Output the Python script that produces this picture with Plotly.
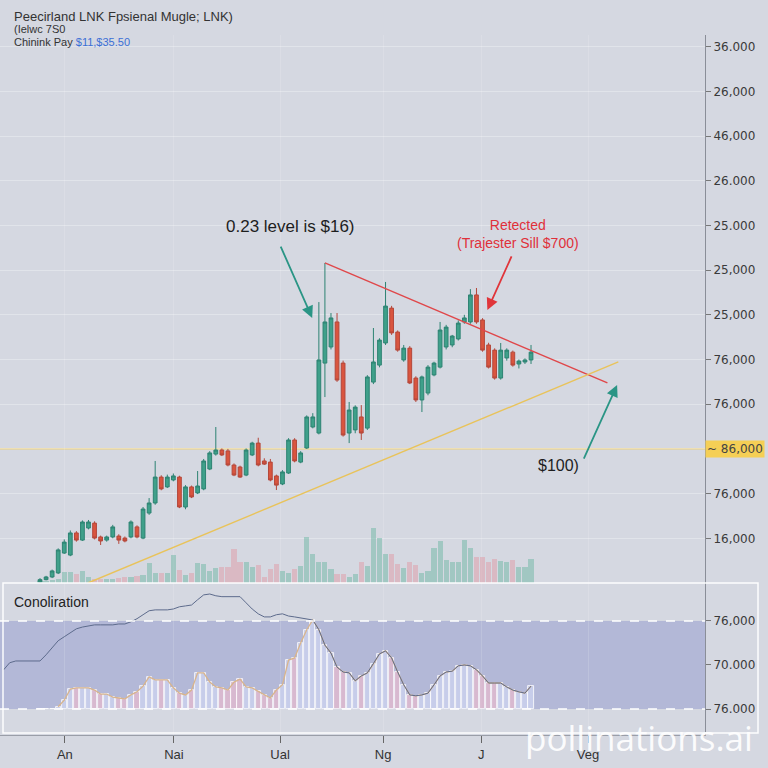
import plotly.graph_objects as go

# ---------------- data ----------------
opens  = [0.05,0.15,0.27,0.45,1.34,1.25,2.24,1.92,2.46,2.68,2.06,1.92,2.06,2.10,2.01,2.06,2.51,2.01,3.13,3.58,
          4.74,4.30,4.61,4.74,3.40,4.30,4.03,4.21,5.10,5.77,5.95,5.91,5.28,5.19,4.83,5.73,6.26,5.46,5.41,4.79,
          4.43,4.92,6.40,5.41,6.04,6.98,6.71,9.84,10.56,11.68,9.84,6.71,6.85,7.43,6.93,8.99,9.75,10.74,12.30,11.23,
          9.98,10.51,9.17,8.19,8.50,9.31,9.66,10.56,10.65,10.92,11.68,11.68,12.89,11.77,10.65,10.42,9.17,10.07,10.33,9.80,
          9.89,9.98]
highs  = [0.22,0.32,0.60,1.55,1.95,2.35,2.32,2.80,2.82,2.76,2.12,2.12,2.60,2.18,2.08,2.80,2.58,3.40,3.80,5.46,
          4.82,4.85,4.90,4.80,4.38,4.36,5.01,5.55,5.90,6.98,6.02,6.00,5.35,5.25,6.02,6.32,6.50,5.58,5.55,4.85,
          5.05,6.48,6.48,5.90,7.50,7.60,12.57,14.32,12.08,12.08,9.95,8.10,7.95,7.96,9.30,11.41,10.95,13.47,12.40,11.30,
          10.65,10.60,9.25,9.28,9.75,9.90,11.68,11.55,11.10,11.75,12.00,13.15,13.20,11.85,10.75,10.50,10.74,10.50,10.40,10.00,
          10.05,10.65]
lows   = [0.02,0.12,0.22,0.40,1.30,1.20,1.85,1.88,2.40,1.95,1.70,1.85,2.00,1.75,1.82,2.00,2.00,1.96,3.05,3.50,
          4.15,4.25,4.55,3.35,3.30,3.80,3.98,4.15,5.05,5.70,5.68,5.22,4.78,4.70,4.78,5.68,5.22,5.28,4.55,4.16,
          4.38,4.88,5.40,5.36,6.00,6.92,6.65,8.32,10.45,9.00,6.55,6.26,6.70,6.40,6.85,8.90,9.65,10.65,11.10,10.35,
          9.90,8.90,8.10,7.65,8.40,9.25,9.60,10.45,10.55,10.85,11.60,11.60,11.60,10.35,9.60,9.10,9.10,9.95,9.68,9.60,
          9.80,9.80]
closes = [0.15,0.27,0.54,1.48,1.83,2.24,1.92,2.73,2.73,2.01,1.88,2.06,2.51,1.92,1.88,2.73,2.06,3.31,3.58,4.74,
          4.21,4.74,4.79,3.40,4.30,3.85,4.34,5.46,5.82,5.95,5.73,5.28,4.83,4.74,5.95,6.26,5.28,5.32,4.61,4.38,
          4.97,6.40,5.46,5.82,7.43,7.43,9.98,11.68,11.86,9.08,6.62,7.74,7.87,6.71,9.22,9.89,10.87,12.39,11.19,10.42,
          10.51,8.95,8.19,9.22,9.66,9.84,11.32,11.45,11.05,11.63,11.86,12.89,11.68,10.42,9.66,9.17,10.42,10.42,9.75,9.93,
          9.98,10.33]
volume = [2,2,3,4,11,11,9,12,6,4,4,4,4,5,6,6,7,8,20,10,
          10,10,28,13,8,10,20,19,12,15,16,16,34,21,21,16,18,6,14,19,
          12,10,14,17,46,29,21,21,14,9,9,6,9,21,17,55,45,29,29,19,
          15,21,18,10,12,35,42,23,21,21,43,35,26,26,21,24,22,21,23,16,
          16,24]
oscillator = [0,0,0,0.05,0.20,0.45,0.48,0.48,0.48,0.43,0.34,0.34,0.27,0.25,0.23,0.32,0.39,0.52,0.73,0.66,
              0.66,0.66,0.48,0.36,0.32,0.43,0.82,0.82,0.61,0.50,0.48,0.43,0.61,0.68,0.50,0.48,0.40,0.32,0.25,0.43,
              0.55,1.11,1.16,1.50,1.80,2.02,1.80,1.45,1.27,0.95,0.84,0.82,0.64,0.75,0.82,1.02,1.25,1.32,1.16,0.84,
              0.55,0.32,0.30,0.32,0.36,0.55,0.75,0.84,0.86,0.98,1.00,0.98,0.89,0.75,0.59,0.59,0.59,0.50,0.43,0.39,
              0.36,0.52]
signal_start = -6
signal = [0.89,1.05,1.09,1.09,1.09,1.09,
          1.09,1.23,1.39,1.55,1.64,1.73,1.82,1.86,1.89,1.91,1.91,1.91,1.91,1.93,1.93,1.98,2.05,2.14,2.23,2.25,
          2.25,2.25,2.27,2.32,2.34,2.36,2.48,2.59,2.61,2.57,2.55,2.55,2.55,2.55,2.41,2.27,2.16,2.09,2.09,2.14,
          2.16,2.11,2.09,2.07,2.05,2.02,1.80,1.45,1.27,0.95,0.84,0.82,0.64,0.75,0.82,1.02,1.25,1.32,1.16,0.84,
          0.55,0.32,0.30,0.32,0.36,0.55,0.75,0.84,0.86,0.98,1.00,0.98,0.89,0.75,0.59,0.59,0.59,0.50,0.43,0.39,
          0.36,0.52]

month_pos = [4.1, 22.1, 39.6, 56.6, 72.8, 90.4]
month_labels = ["An", "Nai", "Ual", "Ng", "J", "Veg"]
price_ticks = [2, 4, 6, 8, 10, 12, 14, 16, 18, 20, 22, 24]
price_labels = ["16,000", "76,000", "", "76,000", "76,000", "25,000", "25,000", "25.000",
                "26.000", "46,000", "26,000", "36.000"]
osc_ticks = [0, 1, 2]
osc_labels = ["76.000", "70.000", "76,000"]

resistance = ([47, 93.6], [14.32, 8.95])
support = ([7.9, 95.4], [0.0, 9.89])
fib_level = 6.0

# ---------------- figure ----------------
idx = list(range(len(opens)))
BG = "#d5d8e1"
FONT = "Liberation Sans, Arial, sans-serif"

fig = go.Figure()

vol_colors = ["rgba(118,186,170,0.55)" if c >= o else "rgba(222,160,172,0.55)" for o, c in zip(opens, closes)]
fig.add_trace(go.Bar(x=idx, y=volume, marker=dict(color=vol_colors, line=dict(width=0)),
                     width=0.85, xaxis="x", yaxis="y", showlegend=False, hoverinfo="skip"))

fig.add_trace(go.Candlestick(x=idx, open=opens, high=highs, low=lows, close=closes,
                             increasing=dict(line=dict(color="#2d8372", width=1), fillcolor="#3fa08a"),
                             decreasing=dict(line=dict(color="#b4473a", width=1), fillcolor="#d9553f"),
                             whiskerwidth=0, xaxis="x", yaxis="y3", showlegend=False))

fig.add_trace(go.Scatter(x=resistance[0], y=resistance[1], mode="lines",
                         line=dict(color="#e0474a", width=1.4), xaxis="x", yaxis="y3",
                         showlegend=False, hoverinfo="skip"))
fig.add_trace(go.Scatter(x=support[0], y=support[1], mode="lines",
                         line=dict(color="#e9c35a", width=1.4), xaxis="x", yaxis="y3",
                         showlegend=False, hoverinfo="skip"))

osc_colors = ["rgba(205,212,240,0.75)" if c >= o else "rgba(228,186,206,0.75)" for o, c in zip(opens, closes)]
fig.add_trace(go.Bar(x=idx, y=oscillator, marker=dict(color=osc_colors, line=dict(color="white", width=0.8)),
                     width=0.85, xaxis="x", yaxis="y2", showlegend=False, hoverinfo="skip"))
fig.add_trace(go.Scatter(x=idx[3:], y=oscillator[3:], mode="lines",
                         line=dict(color="#d8b48c", width=1.3), xaxis="x", yaxis="y2",
                         showlegend=False, hoverinfo="skip"))
sig_x = list(range(signal_start, signal_start + len(signal)))
fig.add_trace(go.Scatter(x=sig_x, y=signal, mode="lines",
                         line=dict(color="#5d6b8c", width=1), xaxis="x", yaxis="y2",
                         showlegend=False, hoverinfo="skip"))

PLOT_W = 705.0
PLOT_H = 700.0
split = 152 / PLOT_H

shapes = [
    dict(type="rect", xref="paper", yref="y2", x0=0, x1=1, y0=0, y1=2,
         fillcolor="#b3b8d7", line=dict(width=0), layer="below"),
    dict(type="line", xref="paper", yref="y2", x0=0, x1=1, y0=2, y1=2,
         line=dict(color="white", width=1.5, dash="dash")),
    dict(type="line", xref="paper", yref="y2", x0=0, x1=1, y0=0, y1=0,
         line=dict(color="white", width=1.5, dash="dash")),
    dict(type="line", xref="paper", yref="y3", x0=0, x1=1, y0=fib_level, y1=fib_level,
         line=dict(color="#ecd07a", width=1.2), layer="below"),
    dict(type="rect", xref="paper", yref="paper", x0=3 / PLOT_W, x1=758 / PLOT_W,
         y0=2 / PLOT_H, y1=split, line=dict(color="rgba(255,255,255,0.95)", width=1.5)),
]

def px_x(p):
    return p / PLOT_W

def px_y(p):
    return (735 - p) / PLOT_H

def label(text, x, y, size, color="#333", anchor="center", family=FONT, **kw):
    return dict(text=text, xref="paper", yref="paper", x=px_x(x), y=px_y(y),
                xanchor=anchor, yanchor="middle", showarrow=False,
                font=dict(size=size, color=color, family=family), **kw)

annotations = [
    label("Peecirland LNK Fpsienal Mugle; LNK)", 12, 16, 13, anchor="left"),
    label("(Ielwc 7S0", 12, 29, 11, anchor="left"),
    label("Chinink Pay <span style='color:#3b6fd6'>$11,$35.50</span>", 12, 42, 11, anchor="left"),
    label("0.23 level is $16)", 290, 226, 17, color="#1e1e1e"),
    label("Retected<br>(Trajester Sill $700)", 518, 234, 14, color="#e0303a"),
    label("$100)", 558, 466, 16, color="#1e1e1e"),
    label("Conoliration", 12, 602, 14, color="#222", anchor="left"),
    label("pollinations.ai", 639, 737, 35, color="rgba(255,255,255,0.92)", family="Open Sans"),
    dict(text="~ 86,000", xref="paper", yref="y3", x=1, y=fib_level, xanchor="left", yanchor="middle",
         showarrow=False, bgcolor="#f5cf55", borderpad=1,
         font=dict(size=12, color="#444", family="DejaVu Sans")),
    # arrows
    dict(text="", x=44.9, y=11.86, ax=39.6, ay=15.12, xref="x", yref="y3", axref="x", ayref="y3",
         showarrow=True, arrowhead=2, arrowsize=1.3, arrowwidth=1.8, arrowcolor="#2a9585"),
    dict(text="", x=73.8, y=12.21, ax=77.9, ay=14.68, xref="x", yref="y3", axref="x", ayref="y3",
         showarrow=True, arrowhead=2, arrowsize=1.3, arrowwidth=1.8, arrowcolor="#e0353a"),
    dict(text="", x=95.2, y=8.86, ax=89.6, ay=5.50, xref="x", yref="y3", axref="x", ayref="y3",
         showarrow=True, arrowhead=2, arrowsize=1.3, arrowwidth=1.8, arrowcolor="#2a9585"),
]

fig.update_layout(
    width=768, height=768,
    margin=dict(l=0, r=63, t=35, b=33),
    paper_bgcolor=BG, plot_bgcolor=BG,
    font=dict(family=FONT, color="#333"),
    showlegend=False,
    bargap=0,
    boxgap=0.12,
    shapes=shapes,
    annotations=annotations,
    xaxis=dict(range=[-6.6, 109.7], anchor="y2", tickvals=month_pos, ticktext=month_labels,
               ticks="outside", ticklen=7, tickcolor="#666", tickfont=dict(size=13, color="#333"),
               showgrid=True, gridcolor="rgba(255,255,255,0.14)", zeroline=False,
               showline=True, linecolor="#9a9ea8", rangeslider=dict(visible=False)),
    yaxis=dict(domain=[split, 1], range=[0, 548], visible=False, showgrid=False, zeroline=False),
    yaxis3=dict(overlaying="y", side="right", range=[0, 24.52], tickvals=price_ticks, ticktext=price_labels,
                ticks="outside", ticklen=5, tickcolor="#777",
                tickfont=dict(size=12, color="#3a3a3a", family="DejaVu Sans"),
                showgrid=True, gridcolor="rgba(255,255,255,0.3)", zeroline=False,
                showline=True, linecolor="#8a8e98"),
    yaxis2=dict(domain=[0, split], range=[-0.59, 2.86], side="right", anchor="x",
                tickvals=osc_ticks, ticktext=osc_labels, ticks="outside", ticklen=5, tickcolor="#777",
                tickfont=dict(size=12, color="#3a3a3a", family="DejaVu Sans"),
                showgrid=False, zeroline=False, showline=True, linecolor="#8a8e98"),
)

fig.write_html("out.html", config={"displayModeBar": False},
               post_script="document.body.style.margin='0';document.body.style.overflow='hidden';")
